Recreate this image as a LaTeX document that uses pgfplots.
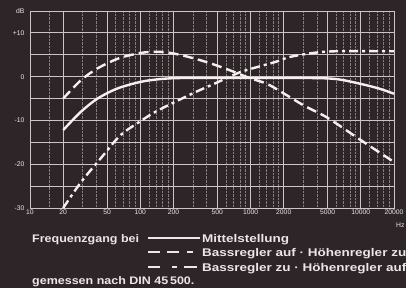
\documentclass[border=0pt]{standalone}
\usepackage{pgfplots}
\pgfplotsset{compat=1.18}
\usepackage{fontspec}
\setmainfont{Liberation Sans}
\newfontfamily\legfont[FakeStretch=1.21]{Liberation Sans}
\newfontfamily\legfontA[FakeStretch=1.14]{Liberation Sans}
\definecolor{bg}{RGB}{46,37,40}
\definecolor{gridc}{RGB}{205,197,197}
\definecolor{curve}{RGB}{244,240,238}
\definecolor{txt}{RGB}{235,231,229}
\begin{document}
\begin{tikzpicture}[x=1bp,y=1bp]
\clip (0,0) rectangle (406,288);
\fill[bg] (0,0) rectangle (406,288);
\begin{axis}[
  at={(30bp,80bp)}, anchor=south west, scale only axis,
  width=364bp, height=197bp,
  xmode=log, xmin=10, xmax=20000, ymin=-30, ymax=15,
  axis line style={gridc, line width=0.9bp},
  xtick={10,20,50,100,200,500,1000,2000,5000,10000,20000},
  xticklabels={10,20,50,100,200,500,1000,2000,5000,10000,20000},
  minor xtick={15,30,40,60,70,80,90,120,140,160,180,300,400,600,700,800,900,1200,1400,1600,1800,3000,4000,6000,7000,8000,9000,12000,14000,16000,18000},
  ytick={-30,-25,-20,-15,-10,-5,0,5,10,15},
  yticklabels={-30,,-20,,-10,,0,,+10,dB},
  grid=both,
  major grid style={gridc, line width=0.8bp},
  minor grid style={gridc!55!bg, densely dotted, line width=0.7bp},
  tick style={draw=none},
  ticklabel style={font=\fontsize{6.8}{7}\selectfont, text=txt},
  xticklabel style={yshift=2bp},
  yticklabel style={xshift=-2bp},
  clip=false,
]
\addplot[curve, line width=2.4bp, smooth] coordinates {
 (20,-12.2) (29,-8.0) (41,-5.0) (62,-2.7) (100,-1.2) (145,-0.6) (200,-0.35) (300,-0.3) (1000,-0.3) (3000,-0.3) (5000,-0.4) (6800,-0.75) (11000,-1.9) (15000,-2.8) (20000,-3.9)};
\addplot[curve, line width=2.4bp, smooth, dash pattern=on 10bp off 5bp] coordinates {
 (20,-5) (29,-0.8) (41,1.9) (64,4.2) (100,5.4) (140,5.7) (190,5.4) (265,4.6) (427,3.1) (690,1.2) (1000,-0.4) (1480,-1.9) (3000,-6.5) (5000,-9.4) (10000,-14.5) (20000,-19.5)};
\addplot[curve, line width=2.4bp, smooth, dash pattern=on 9bp off 4bp on 3bp off 4bp] coordinates {
 (20,-30) (29,-24.1) (45,-18.3) (66,-13.4) (100,-10.2) (145,-7.7) (300,-3.8) (490,-1.4) (800,1.0) (1150,2.2) (1700,3.4) (2270,4.5) (3650,5.4) (5900,5.8) (20000,5.8)};
\end{axis}
\node[anchor=west, text=txt, font=\fontsize{6.8}{7}\selectfont, inner sep=0] at (396,63) {Hz};
\begin{scope}[every node/.style={anchor=base west, text=txt, inner sep=0, font=\legfont\bfseries\fontsize{11.2}{12}\selectfont}]
\node[font=\legfontA\bfseries\fontsize{11}{12}\selectfont] at (32,46) {Frequenzgang bei};
\node at (202,46) {Mittelstellung};
\node at (202,32) {Bassregler auf {\textperiodcentered} Höhenregler zu};
\node at (202,17) {Bassregler zu {\textperiodcentered} Höhenregler auf};
\node[font=\legfontA\bfseries\fontsize{11}{12}\selectfont] at (32,4) {gemessen nach DIN 45\,500.};
\draw[txt, line width=1.3bp] (148,50) -- (200,50);
\draw[txt, line width=1.3bp] (148,36) -- (160,36) (167,36) -- (179,36) (187,36) -- (193,36);
\draw[txt, line width=1.3bp] (148,21) -- (160,21) (172,21) -- (177,21) (184,21) -- (197,21);
\end{scope}
\end{tikzpicture}
\end{document}
